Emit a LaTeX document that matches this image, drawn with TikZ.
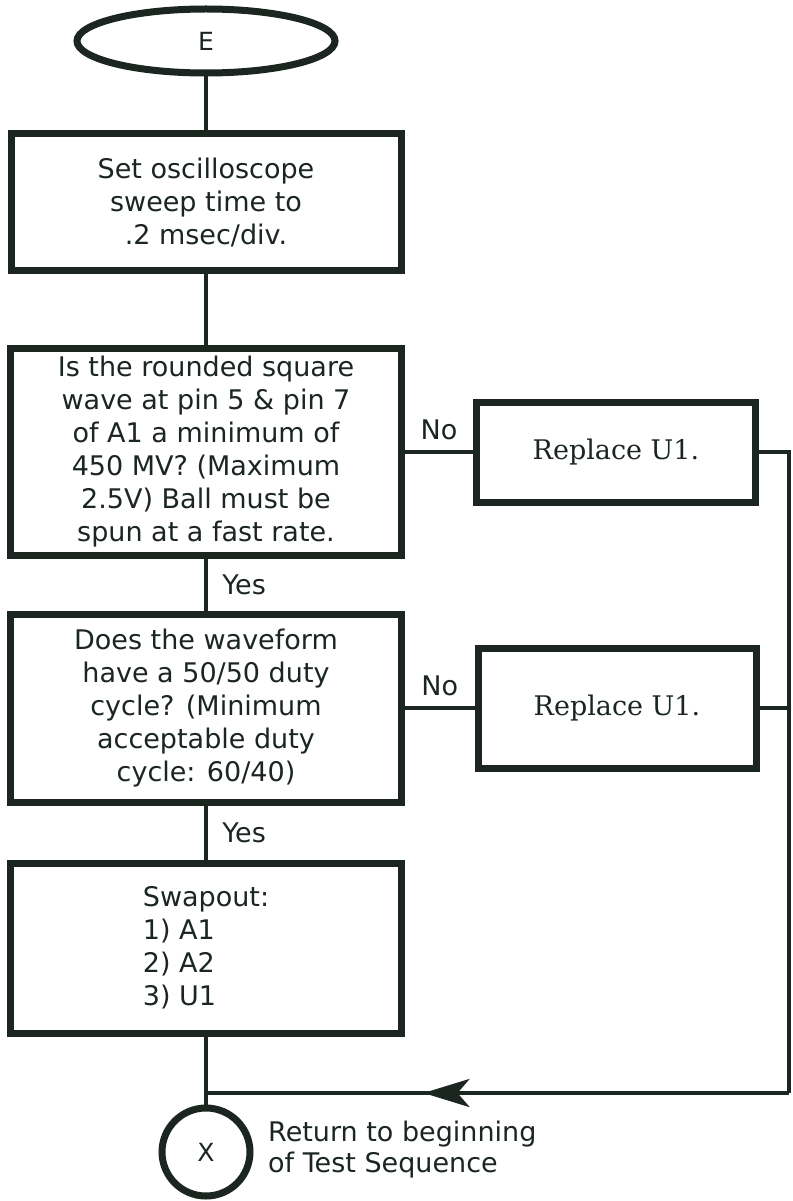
\documentclass[tikz,border=0pt]{standalone}
\usepackage{fontspec}
\setmainfont{DejaVu Sans}
\newfontfamily\replfont{DejaVu Serif}
\usetikzlibrary{arrows.meta,positioning,shapes.geometric,decorations.markings}
\definecolor{tsink}{HTML}{1C2620}
\tikzset{
  >=Stealth,
  font=\fontsize{27}{33}\selectfont,
  procbox/.style={draw=tsink,line width=7pt,rectangle,fill=white,
                  inner sep=4pt,align=center,text=tsink},
  fixbox/.style={procbox,font=\replfont\fontsize{27}{33}\selectfont},
  terminal/.style={draw=tsink,line width=7pt,ellipse,minimum width=258pt,
                   minimum height=64pt,font=\fontsize{25}{28}\selectfont,text=tsink},
  offpage/.style={draw=tsink,line width=7pt,circle,minimum size=88pt,
                  font=\fontsize{25}{28}\selectfont,text=tsink},
  flow/.style={line width=4.5pt,draw=tsink},
  flowlbl/.style={text=tsink,inner sep=2pt},
  note/.style={text=tsink,align=left,inner sep=0pt,
               font=\fontsize{27}{31}\selectfont},
}
\begin{document}
\begin{tikzpicture}[x=1pt,y=-1pt]
  \useasboundingbox (0,0) rectangle (792,1201);

  % ---- main column ----
  \node[terminal] (start) at (206,41) {E};
  \node[procbox,minimum width=390pt,minimum height=136pt] (sweep) at (206,202)
    {Set oscilloscope\\sweep time to\\.2 msec/div.};
  \node[procbox,minimum width=391pt,minimum height=207pt] (ampl) at (206,452)
    {Is the rounded square\\wave at pin 5 \& pin 7\\of A1 a minimum of\\450 MV? (Maximum\\2.5V) Ball must be\\spun at a fast rate.};
  \node[procbox,minimum width=391pt,minimum height=188pt] (duty) at (206,708)
    {Does the waveform\\have a 50/50 duty\\cycle?  (Minimum\\acceptable duty\\cycle:  60/40)};
  \node[procbox,minimum width=391pt,minimum height=170pt,align=left] (swap) at (206,948)
    {Swapout:\\1) A1\\2) A2\\3) U1};
  \node[offpage] (ret) at (206,1152) {X};
  \node[note,anchor=west] (retlbl) at (268,1150) {Return to beginning\\of Test Sequence};

  % ---- replace branches ----
  \node[fixbox,minimum width=279pt,minimum height=100pt] (fixA) at (616,452) {Replace U1.};
  \node[fixbox,minimum width=278pt,minimum height=120pt] (fixB) at (617,708) {Replace U1.};

  % return rail on the right edge
  \coordinate (railA) at (789,452);
  \coordinate (railB) at (789,708);
  \coordinate (railC) at (789,1093);
  \coordinate (join)  at (206,1093);

  % ---- connectors ----
  \draw[flow] (start.south) -- (sweep.north);
  \draw[flow] (sweep.south) -- (ampl.north);
  \draw[flow] (ampl.south) -- node[flowlbl,anchor=west,xshift=12pt] {Yes} (duty.north);
  \draw[flow] (duty.south) -- node[flowlbl,anchor=west,xshift=12pt] {Yes} (swap.north);
  \draw[flow] (swap.south) -- (join) -- (ret.north);
  \draw[flow] (ampl.east) -- node[flowlbl,anchor=south,yshift=8pt] {No} (fixA.west);
  \draw[flow] (duty.east) -- node[flowlbl,anchor=south,yshift=8pt] {No} (fixB.west);
  \draw[flow] (fixA.east) -- (railA) -- (railC);
  \draw[flow] (fixB.east) -- (railB);
  \draw[flow,postaction={decorate},decoration={markings,
        mark=at position 0.627 with {\arrow{Stealth[length=46pt,width=28pt,inset=12pt]}}}]
    (railC) -- (join);
\end{tikzpicture}
\end{document}
